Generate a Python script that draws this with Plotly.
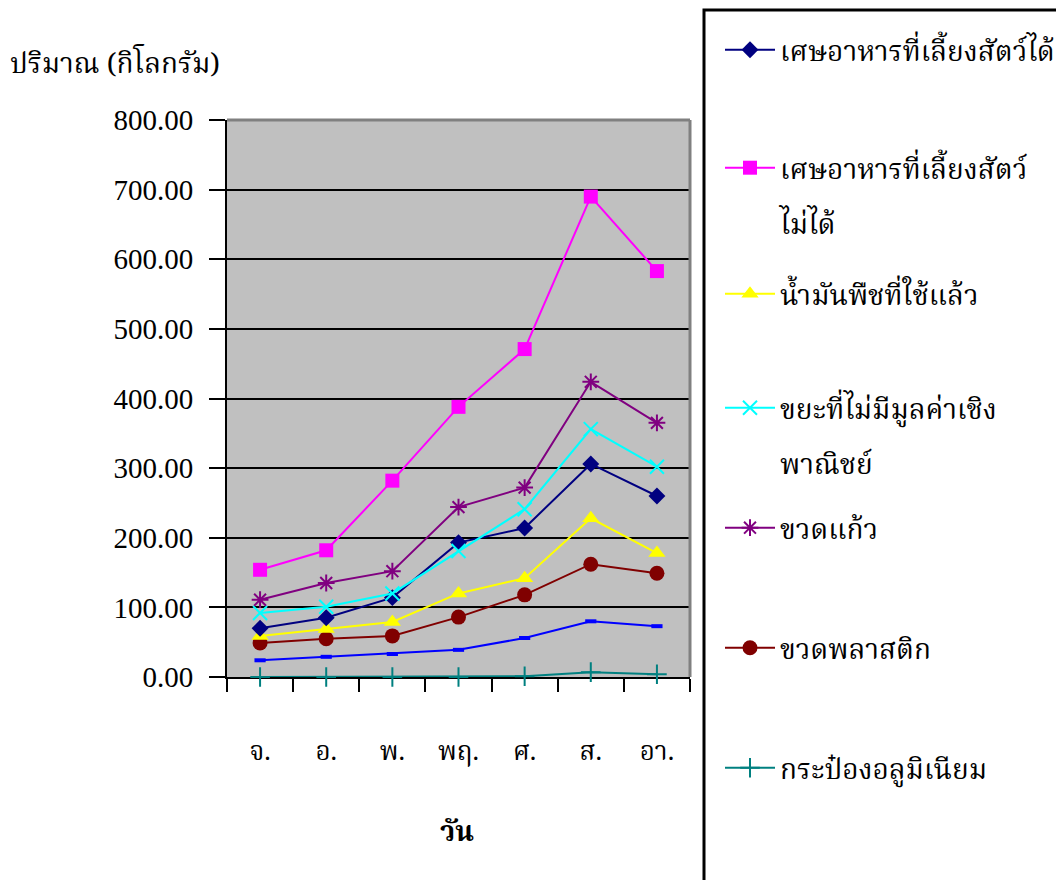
import plotly.graph_objects as go

days = ["จ.", "อ.", "พ.", "พฤ.", "ศ.", "ส.", "อา."]

food_feed = [70, 85, 114, 193, 214, 306, 260]
food_nofeed = [154, 182, 282, 388, 471, 690, 583]
used_oil = [59, 69, 79, 120, 142, 228, 178]
no_value = [92, 101, 120, 181, 241, 356, 302]
glass = [111, 135, 152, 244, 272, 424, 365]
plastic = [49, 55, 59, 86, 118, 162, 149]
other_blue = [24, 29, 33, 39, 56, 80, 73]
aluminium = [0, 0, 0, 0, 1, 7, 4]

names = [
    "เศษอาหารที่เลี้ยงสัตว์ได้",
    "เศษอาหารที่เลี้ยงสัตว์",
    "น้ำมันพืชที่ใช้แล้ว",
    "ขยะที่ไม่มีมูลค่าเชิง",
    "ขวดแก้ว",
    "ขวดพลาสติก",
    "กระป๋องอลูมิเนียม",
]
second_lines = ["ไม่ได้", "พาณิชย์"]

THAI = "Noto Serif Thai, Noto Sans Thai, Loma, Garuda, Noto Sans, serif"
NUM = "Liberation Serif, Times New Roman, serif"

W, H = 1056, 880
L, R, T, B = 227, 690, 120, 677

fig = go.Figure()

series = [
    (other_blue, None, "#0000FF", dict(symbol="line-ew-open", size=8, line=dict(width=4, color="#0000FF"))),
    (plastic, "legend6", "#800000", dict(symbol="circle", size=15)),
    (used_oil, "legend3", "#FFFF00", dict(symbol="triangle-up", size=15)),
    (food_feed, "legend", "#000080", dict(symbol="diamond", size=13)),
    (no_value, "legend4", "#00FFFF", dict(symbol="x-thin-open", size=14, line=dict(width=2, color="#00FFFF"))),
    (glass, "legend5", "#800080", dict(symbol="asterisk-open", size=14, line=dict(width=2, color="#800080"))),
    (food_nofeed, "legend2", "#FF00FF", dict(symbol="square", size=14)),
    (aluminium, "legend7", "#008080", dict(symbol="cross-thin-open", size=14, line=dict(width=2, color="#008080"))),
]
legend_names = {"legend": names[0], "legend2": names[1], "legend3": names[2], "legend4": names[3],
                "legend5": names[4], "legend6": names[5], "legend7": names[6]}

for vals, lg, col, mk in series:
    m = dict(color=col)
    m.update(mk)
    kw = dict(x=days, y=vals, mode="lines+markers", line=dict(color=col, width=2), marker=m, cliponaxis=False)
    if lg is None:
        kw.update(showlegend=False)
    else:
        kw.update(name=legend_names[lg], legend=lg, showlegend=True)
    fig.add_trace(go.Scatter(**kw))

# continuation lines of the two-line legend labels
for txt, lg in zip(second_lines, ["legend8", "legend9"]):
    fig.add_trace(go.Scatter(x=[None], y=[None], mode="lines", name=txt, legend=lg, showlegend=True,
                             line=dict(color="rgba(0,0,0,0)", width=0), hoverinfo="skip"))

FS = 28
# legend item centers (pixels from top)
centers = {"legend": 47, "legend2": 165, "legend8": 220, "legend3": 291, "legend4": 405,
           "legend9": 460, "legend5": 525, "legend6": 645, "legend7": 765}
lay = {}
for lg, cy in centers.items():
    lay[lg] = dict(
        xref="container", yref="container",
        x=720 / W, y=1 - (cy - 22) / H, xanchor="left", yanchor="top",
        bgcolor="rgba(0,0,0,0)", borderwidth=0, valign="top",
        font=dict(family=THAI, size=FS, color="black"),
        itemwidth=50,
    )
fig.update_layout(**lay)

def px2x(p):
    return (p - L) / (R - L)

def px2y(p):
    return (B - p) / (B - T)

shapes = [
    # legend box
    dict(type="rect", xref="paper", yref="paper", x0=px2x(704), x1=px2x(1070), y0=px2y(10), y1=px2y(900),
         line=dict(color="black", width=3), fillcolor="rgba(0,0,0,0)", layer="above"),
    # plot area top and right border (gray)
    dict(type="line", xref="paper", yref="paper", x0=0, x1=1, y0=1, y1=1, line=dict(color="#808080", width=3), layer="above"),
    dict(type="line", xref="paper", yref="paper", x0=1, x1=1, y0=0, y1=1, line=dict(color="#808080", width=3), layer="above"),
]

fig.update_layout(
    width=W, height=H,
    margin=dict(l=L, r=W - R, t=T, b=H - B),
    paper_bgcolor="white",
    plot_bgcolor="#C0C0C0",
    shapes=shapes,
    xaxis=dict(
        type="category", range=[-0.5, 6.5], tickson="boundaries",
        ticks="outside", ticklen=13, tickwidth=2, tickcolor="black",
        showline=True, linecolor="black", linewidth=2, showgrid=False,
        tickfont=dict(family=THAI, size=26, color="black"),
        ticklabelstandoff=50, layer="below traces",
    ),
    yaxis=dict(
        range=[0, 800], dtick=100, tickformat=".2f",
        ticks="outside", ticklen=16, tickwidth=2, tickcolor="black",
        showline=True, linecolor="black", linewidth=2,
        showgrid=True, gridcolor="black", gridwidth=2, zeroline=False,
        tickfont=dict(family=NUM, size=29, color="black"),
        ticklabelstandoff=10,
        layer="below traces",
    ),
    annotations=[
        dict(text="ปริมาณ (กิโลกรัม)", xref="paper", yref="paper", x=px2x(8), y=px2y(66),
             xanchor="left", yanchor="middle", showarrow=False,
             font=dict(family=THAI, size=28, color="black")),
        dict(text="<b>วัน</b>", xref="paper", yref="paper", x=px2x(457), y=px2y(833),
             xanchor="center", yanchor="middle", showarrow=False,
             font=dict(family=THAI, size=28, color="black")),
    ],
)

fig.write_html("out.html")
